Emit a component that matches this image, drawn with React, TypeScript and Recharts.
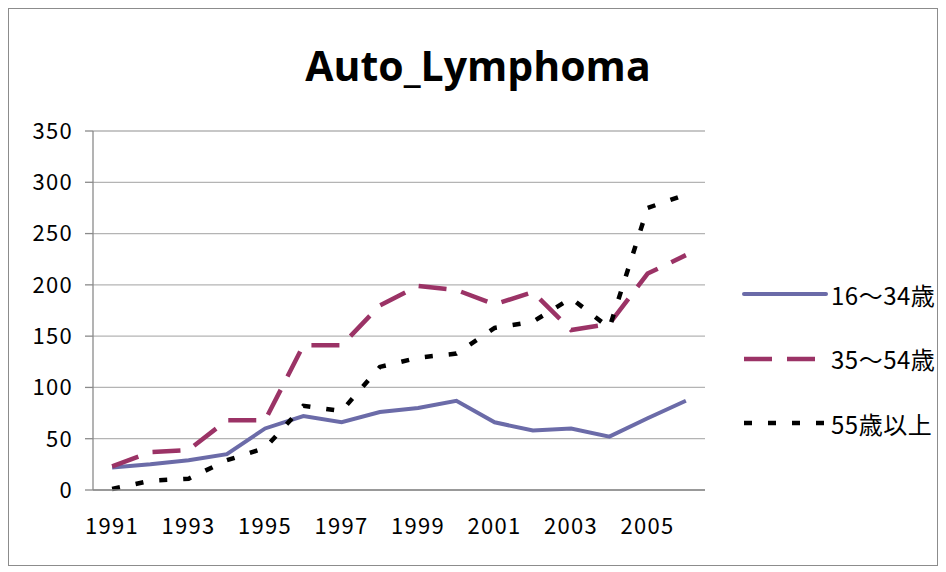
import React from "react";
import {
    LineChart,
    Line,
    XAxis,
    YAxis,
    CartesianGrid,
    Legend,
} from "recharts";

// 年ごとの件数
const years = [1991, 1992, 1993, 1994, 1995, 1996, 1997, 1998, 1999, 2000, 2001, 2002, 2003, 2004, 2005, 2006];
const age16to34 = [22, 25, 29, 35, 60, 72, 66, 76, 80, 87, 66, 58, 60, 52, 70, 87];
const age35to54 = [23, 37, 39, 68, 68, 141, 141, 180, 199, 195, 181, 193, 156, 162, 211, 229];
const age55plus = [1, 9, 11, 29, 41, 82, 77, 120, 129, 133, 158, 164, 187, 158, 275, 288];

const yTicks = [0, 50, 100, 150, 200, 250, 300, 350];
const xLabelYears = [1991, 1993, 1995, 1997, 1999, 2001, 2003, 2005];
// カテゴリの境界 (目盛り線の位置)
const xBoundaries = [...years.map((y) => y - 0.5), years[years.length - 1] + 0.5];

const SERIES = [
    { key: "a16", name: "16～34歳", color: "#6b6ba8", width: 4, dash: undefined as string | undefined },
    { key: "a35", name: "35～54歳", color: "#9b3366", width: 4.5, dash: "28 15" },
    { key: "a55", name: "55歳以上", color: "#000000", width: 4.5, dash: "8 16" },
];

const data = years.map((year, i) => ({
    year,
    a16: age16to34[i],
    a35: age35to54[i],
    a55: age55plus[i],
}));

const FONT = '"Noto Sans CJK JP", "Noto Sans", sans-serif';
const GRID = "#b4b4b4";
const AXIS = "#8a8a8a";
const tickStyle = { fontSize: 22, fill: "#000", fontFamily: FONT, letterSpacing: 1.3 };

const LegendBox = () => (
    <div style={{ fontFamily: FONT }}>
        {SERIES.map((s) => (
            <div key={s.key} style={{ display: "flex", alignItems: "center", height: 64.5 }}>
                <svg width={86} height={10} style={{ display: "block" }}>
                    <line
                        x1={2}
                        y1={5}
                        x2={84}
                        y2={5}
                        stroke={s.color}
                        strokeWidth={s.width}
                        strokeDasharray={s.dash}
                        strokeLinecap={s.dash ? "butt" : "round"}
                    />
                </svg>
                <span style={{ fontSize: 24, color: "#000", marginLeft: 3, whiteSpace: "nowrap", letterSpacing: 0.5 }}>
                    {s.name}
                </span>
            </div>
        ))}
    </div>
);

export default function App() {
    return (
        <div
            style={{
                position: "relative",
                width: 930,
                height: 558,
                border: "1px solid #8c8c8c",
                boxSizing: "border-box",
                background: "#fff",
                fontFamily: FONT,
            }}
        >
            <div
                style={{
                    position: "absolute",
                    left: 0,
                    width: 938,
                    top: 36,
                    textAlign: "center",
                    fontFamily: '"Open Sans", sans-serif',
                    fontWeight: 700,
                    fontSize: 41,
                    lineHeight: "40px",
                    color: "#000",
                }}
            >
                Auto_Lymphoma
            </div>
            <LineChart
                width={928}
                height={556}
                data={data}
                margin={{ top: 122, right: 232, bottom: 25, left: 0 }}
            >
                <CartesianGrid vertical={false} stroke={GRID} strokeWidth={1.3} />
                <XAxis
                    xAxisId="a"
                    dataKey="year"
                    type="number"
                    domain={[1990.5, 2006.5]}
                    ticks={xBoundaries}
                    interval={0}
                    tick={false}
                    tickSize={8}
                    height={10}
                    axisLine={{ stroke: AXIS, strokeWidth: 1.3 }}
                    tickLine={{ stroke: AXIS, strokeWidth: 1.3 }}
                />
                <XAxis
                    xAxisId="b"
                    dataKey="year"
                    type="number"
                    domain={[1990.5, 2006.5]}
                    ticks={xLabelYears}
                    interval={0}
                    height={40}
                    axisLine={false}
                    tickLine={false}
                    tickSize={0}
                    tickMargin={18}
                    tick={tickStyle}
                />
                <YAxis
                    domain={[0, 350]}
                    ticks={yTicks}
                    interval={0}
                    width={84}
                    tickSize={8}
                    tickMargin={12}
                    axisLine={{ stroke: AXIS, strokeWidth: 1.3 }}
                    tickLine={{ stroke: AXIS, strokeWidth: 1.3 }}
                    tick={tickStyle}
                />
                <Legend
                    layout="vertical"
                    align="center"
                    verticalAlign="middle"
                    wrapperStyle={{ left: 733, top: 253, width: 200 }}
                    content={() => <LegendBox />}
                />
                {SERIES.map((s) => (
                    <Line
                        key={s.key}
                        xAxisId="a"
                        type="linear"
                        dataKey={s.key}
                        name={s.name}
                        stroke={s.color}
                        strokeWidth={s.width}
                        strokeDasharray={s.dash}
                        strokeLinecap="butt"
                        dot={false}
                        activeDot={false}
                        isAnimationActive={false}
                    />
                ))}
            </LineChart>
        </div>
    );
}
